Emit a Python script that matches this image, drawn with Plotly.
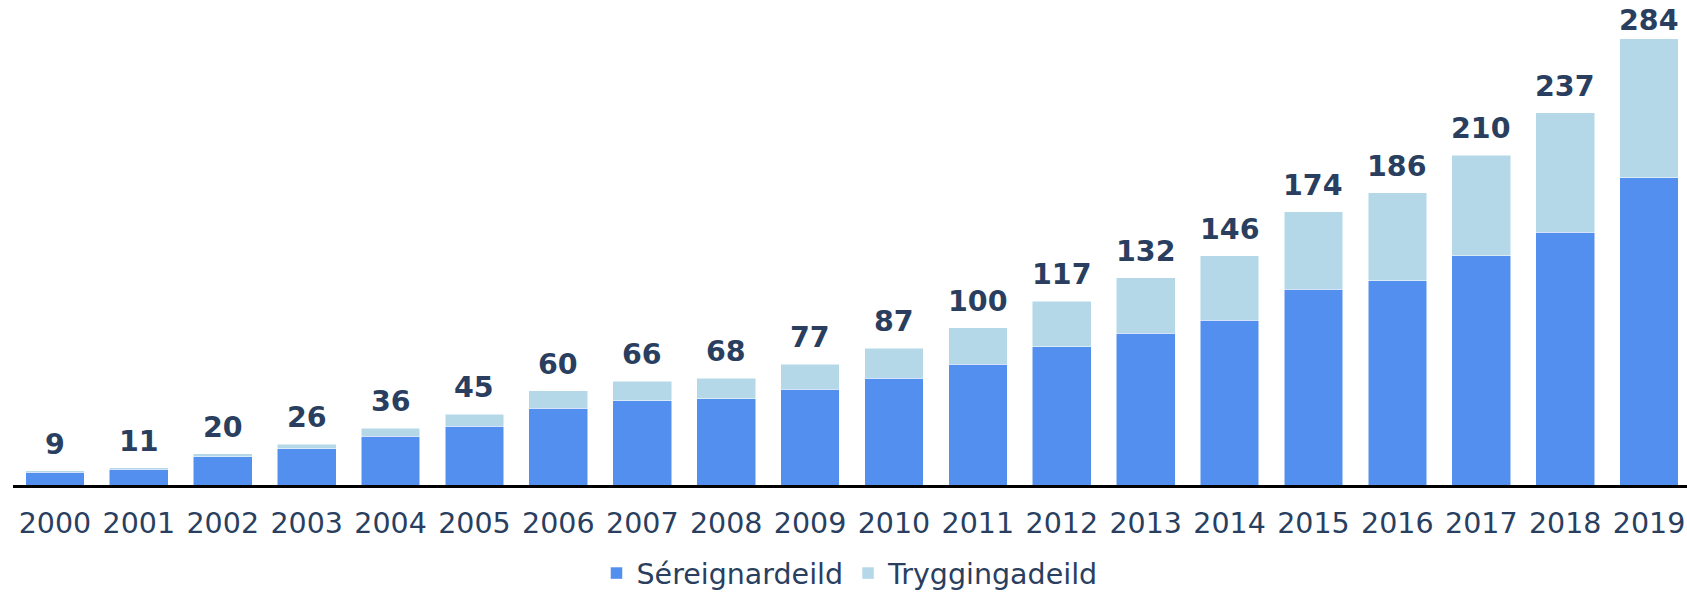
import plotly.graph_objects as go

# (values in bars)
years = [str(y) for y in range(2000, 2020)]
sereign = [8, 10, 18, 23, 31, 37.5, 49, 53.5, 55, 61, 68, 77, 88, 96.5, 105, 124.5, 130, 146, 161, 195.5]
trygging = [1, 1, 2, 3, 5, 7.5, 11, 12.5, 13, 16, 19, 23, 29, 35.5, 41, 49.5, 56, 64, 76, 88.5]
totals = [round(a + b) for a, b in zip(sereign, trygging)]

font_family = 'Verdana, "DejaVu Sans", sans-serif'
text_color = '#2a3f5f'
label_size = 28.5

height = 595
margin_b = 110
y_max = 308.8
plot_h = height - margin_b

fig = go.Figure()
fig.add_trace(go.Bar(
    x=years, y=sereign, name='Séreignardeild',
    marker=dict(color='#528fee', line=dict(color='white', width=0.5))
))
fig.add_trace(go.Bar(
    x=years, y=trygging, name='Tryggingadeild',
    marker=dict(color='#b4d8e7', line=dict(color='white', width=0.5))
))

# totals above each stack; pushed down a bit if they would leave the top of the page
box_h = label_size * 1.3 + 2
for i, tot in enumerate(totals):
    room = plot_h * (1 - tot / y_max) - box_h
    shift = float(max(0, min(8, room)))
    fig.add_annotation(
        x=i, y=tot, xref='x', yref='y', text='<b>%d</b>' % tot, showarrow=False,
        yanchor='bottom', yshift=shift,
        font=dict(size=label_size, color=text_color, family=font_family)
    )

fig.update_layout(
    width=1687, height=height,
    barmode='stack', bargap=0.3,
    template='plotly_white',
    plot_bgcolor='white', paper_bgcolor='white',
    margin=dict(l=13, r=0, t=0, b=margin_b),
    font=dict(family=font_family, size=28.5, color=text_color),
    showlegend=True,
    legend=dict(orientation='h', x=0.5, xanchor='center', y=0.036, yanchor='middle',
                yref='container', font=dict(size=28.5), traceorder='normal'),
)
fig.update_xaxes(type='category', range=[-0.5, 19.452], showline=True, linecolor='black',
                 linewidth=3, showgrid=False, ticks='outside', ticklen=11, tickcolor='white',
                 tickfont=dict(size=28.5))
fig.update_yaxes(range=[0, y_max], showgrid=False, showticklabels=False, zeroline=False)

# page has a default body margin; drop it so the figure fills the window
fig.write_html("out.html", config={'displayModeBar': False},
               post_script="document.body.style.margin='0';")
